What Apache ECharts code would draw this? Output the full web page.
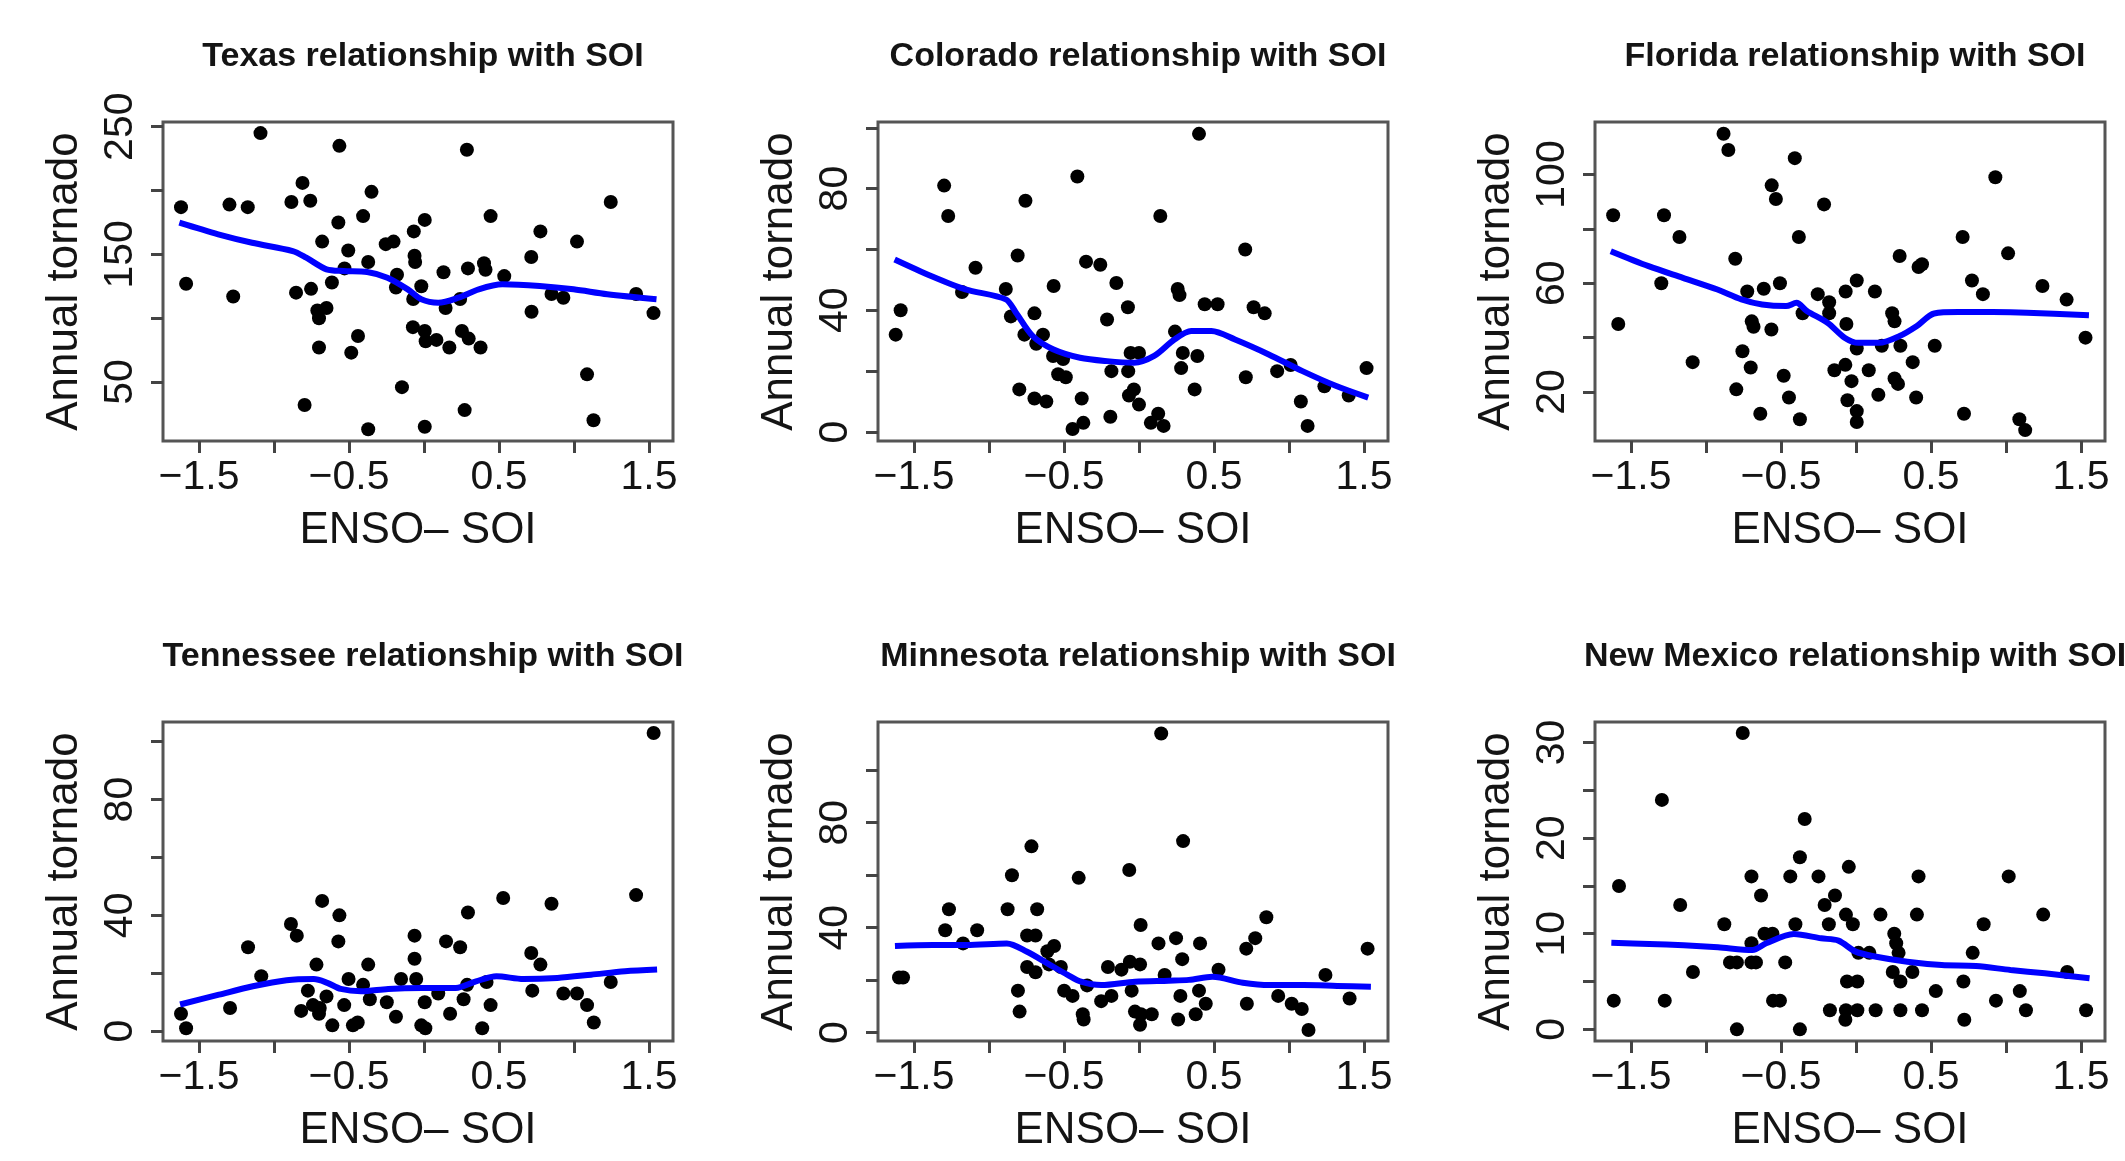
<!DOCTYPE html>
<html>
<head>
<meta charset="utf-8">
<script src="https://cdn.jsdelivr.net/npm/echarts@6/dist/echarts.min.js"></script>
<style>
html,body{margin:0;padding:0;background:#fff;}
#chart{width:2125px;height:1161px;}
</style>
</head>
<body>
<div id="chart"></div>
<script>
// ---------- tick / label values ----------
const xTicks = [-1.5, -1, -0.5, 0, 0.5, 1, 1.5];
const xLabels = [-1.5, -0.5, 0.5, 1.5];

const texasYTicks = [50, 100, 150, 200, 250];
const texasYLabels = [50, 150, 250];
const coloradoYTicks = [0, 20, 40, 60, 80, 100];
const coloradoYLabels = [0, 40, 80];
const floridaYTicks = [20, 40, 60, 80, 100];
const floridaYLabels = [20, 60, 100];
const tennesseeYTicks = [0, 20, 40, 60, 80, 100];
const tennesseeYLabels = [0, 40, 80];
const minnesotaYTicks = [0, 20, 40, 60, 80, 100];
const minnesotaYLabels = [0, 40, 80];
const newMexicoYTicks = [0, 5, 10, 15, 20, 25, 30];
const newMexicoYLabels = [0, 10, 20, 30];

// ---------- data: [ENSO SOI, annual tornado count] ----------
const texasPoints = [
[-1.62,187],[-1.586,127],[-1.297,189],[-1.175,187],[-1.272,117],[-1.09,245],[-0.884,191],[-0.81,206],
[-0.758,192],[-0.853,120],[-0.753,123],[-0.679,160],[-0.614,128],[-0.571,175],[-0.564,235],[-0.505,153],
[-0.53,139],[-0.406,180],[-0.35,199],[-0.372,144],[-0.711,106],[-0.65,108],[-0.70,100],[-0.70,77],
[-0.44,86],[-0.485,73],[-0.796,32],[-0.372,13],[-0.255,158],[-0.203,160],[-0.18,134],[-0.187,124],
[-0.068,168],[0.005,177],[-0.063,149],[-0.059,144],[-0.018,125],[-0.072,115],[-0.074,93],[0.005,90],
[0.011,82],[0.083,83],[0.169,77],[-0.147,46],[0.005,15],[0.13,136],[0.144,108],[0.241,115],
[0.293,139],[0.286,232],[0.253,90],[0.298,84],[0.377,77],[0.271,28],[0.40,143],[0.41,138],
[0.444,180],[0.535,133],[0.715,148],[0.776,168],[0.717,105],[0.85,119],[0.929,116],[1.02,160],
[1.087,56],[1.13,20],[1.245,191],[1.414,119],[1.53,104]
];
const texasSmooth = [
[-1.631,174.8],[-1.372,165.7],[-1.146,159.1],[-0.875,152.6],[-0.785,147.4],[-0.65,138.3],[-0.537,137.0],
[-0.379,136.2],[-0.244,131.7],[-0.108,122.6],[-0.018,114.8],[0.095,112.1],[0.23,116.1],[0.365,122.6],
[0.523,126.5],[0.771,125.2],[0.997,122.6],[1.222,118.7],[1.55,114.8]
];

const coloradoPoints = [
[-1.622,32],[-1.589,40],[-1.299,81],[-1.272,71],[-1.09,54],[-1.18,46],[-0.888,47],[-0.809,58],
[-0.757,76],[-0.854,38],[-0.697,39],[-0.764,32],[-0.64,32],[-0.685,29],[-0.573,25],[-0.506,24],
[-0.539,19],[-0.488,18],[-0.798,14],[-0.697,11],[-0.618,10],[-0.569,48],[-0.411,84],[-0.353,56],
[-0.258,55],[-0.151,49],[-0.213,37],[-0.382,11],[-0.371,3],[-0.443,1],[-0.184,20],[-0.191,5],
[-0.074,41],[-0.056,26],[0,26],[-0.072,20],[-0.067,12],[-0.034,14],[0,9],[0.079,3],
[0.128,6],[0.164,2],[0.142,71],[0.258,47],[0.27,45],[0.24,33],[0.292,26],[0.281,21],
[0.371,14],[0.389,25],[0.40,98],[0.438,42],[0.524,42],[0.708,60],[0.764,41],[0.838,39],
[0.712,18],[0.921,20],[1.011,22],[1.079,10],[1.124,2],[1.236,15],[1.398,12],[1.517,21]
];
const coloradoSmooth = [
[-1.629,56.7],[-1.382,51.2],[-1.157,46.9],[-0.888,43.6],[-0.82,39.2],[-0.708,31.5],[-0.573,27.2],
[-0.393,24.4],[-0.213,23.3],[-0.034,22.8],[0.101,25],[0.236,30.4],[0.348,33.2],[0.483,33.2],
[0.64,30.4],[0.865,25.5],[1.09,20],[1.315,15.1],[1.528,11.3]
];

const floridaPoints = [
[-1.619,85],[-1.585,45],[-1.28,85],[-1.177,77],[-1.298,60],[-1.089,31],[-0.883,115],[-0.851,109],
[-0.805,69],[-0.408,106],[-0.562,96],[-0.534,91],[-0.213,89],[-0.381,77],[-0.725,57],[-0.615,58],
[-0.507,60],[-0.695,46],[-0.683,44],[-0.564,43],[-0.757,35],[-0.702,29],[-0.798,21],[-0.482,26],
[-0.447,18],[-0.638,12],[-0.374,10],[-0.356,49],[-0.255,56],[-0.179,53],[-0.179,49],[-0.069,57],
[0.005,61],[0.126,57],[-0.064,45],[0.005,36],[-0.144,28],[-0.071,30],[-0.03,24],[-0.057,17],
[0.005,13],[0.005,9],[0.085,28],[0.149,19],[0.172,37],[0.241,49],[0.257,46],[0.296,37],
[0.291,70],[0.257,25],[0.28,23],[0.378,31],[0.401,18],[0.417,66],[0.44,67],[0.525,37],
[0.711,77],[0.773,61],[0.846,56],[0.72,12],[0.929,99],[1.014,71],[1.089,10],[1.128,6],
[1.243,59],[1.404,54],[1.53,40]
];
const floridaSmooth = [
[-1.635,71.8],[-1.383,66.3],[-1.154,62],[-0.924,57.7],[-0.764,54.1],[-0.626,52.2],[-0.466,51.6],
[-0.397,52.8],[-0.328,49.8],[-0.19,45.5],[-0.076,40],[0.016,38.1],[0.154,38.1],[0.291,40.6],
[0.406,44.3],[0.521,48.9],[0.681,49.4],[0.911,49.4],[1.14,49.2],[1.553,48.2]
];

const tennesseePoints = [
[-1.62,6],[-1.586,1],[-1.293,8],[-1.173,29],[-1.085,19],[-0.887,37],[-0.848,33],[-0.679,45],
[-0.564,40],[-0.571,31],[-0.717,23],[-0.774,14],[-0.819,7],[-0.74,9],[-0.695,8],[-0.65,12],
[-0.70,6],[-0.611,2],[-0.532,9],[-0.503,18],[-0.406,16],[-0.372,23],[-0.361,11],[-0.474,2],
[-0.442,3],[-0.248,10],[-0.187,5],[-0.153,18],[-0.063,33],[-0.063,25],[-0.052,18],[0.005,10],
[-0.018,2],[0.009,1],[0.095,13],[0.147,31],[0.241,29],[0.293,41],[0.174,6],[0.264,11],
[0.287,16],[0.388,1],[0.417,17],[0.444,9],[0.528,46],[0.715,27],[0.776,23],[0.722,14],
[0.85,44],[0.929,13],[1.02,13],[1.087,9],[1.132,3],[1.245,17],[1.414,47],[1.531,103]
];
const tennesseeSmooth = [
[-1.626,9.2],[-1.367,12.6],[-1.141,15.5],[-0.916,17.6],[-0.735,18],[-0.645,16.7],[-0.555,14.6],
[-0.42,13.8],[-0.239,14.6],[-0.014,14.9],[0.212,14.9],[0.347,17.2],[0.483,19],[0.663,18],
[0.889,18.4],[1.114,19.5],[1.34,20.7],[1.554,21.3]
];

const minnesotaPoints = [
[-1.6,21],[-1.573,21],[-1.267,47],[-1.292,39],[-1.173,34],[-1.079,39],[-0.876,47],[-0.847,60],
[-0.717,71],[-0.679,47],[-0.746,37],[-0.69,37],[-0.566,33],[-0.611,31],[-0.746,25],[-0.69,23],
[-0.807,16],[-0.796,8],[-0.6,26],[-0.521,25],[-0.499,16],[-0.443,14],[-0.402,59],[-0.346,18],
[-0.375,7],[-0.369,5],[-0.252,12],[-0.184,14],[-0.207,25],[-0.117,24],[-0.061,27],[0.007,26],
[-0.049,16],[-0.065,62],[0.011,41],[-0.027,8],[0.013,7],[0.007,3],[0.085,7],[0.148,114],
[0.13,34],[0.171,22],[0.247,36],[0.294,73],[0.288,28],[0.276,14],[0.261,5],[0.407,34],
[0.4,16],[0.445,11],[0.378,7],[0.53,24],[0.715,32],[0.775,36],[0.849,44],[0.719,11],
[0.928,14],[1.018,11],[1.085,9],[1.13,1],[1.243,22],[1.404,13],[1.524,32]
];
const minnesotaSmooth = [
[-1.627,33],[-1.375,33.4],[-1.151,33.4],[-0.881,34],[-0.746,30.8],[-0.611,26.4],[-0.476,22],
[-0.387,19.4],[-0.252,18.1],[-0.027,19.4],[0.198,19.8],[0.333,20.1],[0.49,21.3],[0.692,19],
[0.872,18.1],[1.097,18.1],[1.321,17.8],[1.546,17.5]
];

const newMexicoPoints = [
[-1.615,3],[-1.58,15],[-1.275,3],[-1.294,24],[-1.172,13],[-1.087,6],[-0.878,11],[-0.755,31],
[-0.794,0],[-0.84,7],[-0.794,7],[-0.697,7],[-0.667,7],[-0.697,16],[-0.633,14],[-0.697,9],
[-0.61,10],[-0.557,10],[-0.553,3],[-0.507,3],[-0.472,7],[-0.438,16],[-0.404,11],[-0.374,18],
[-0.342,22],[-0.374,0],[-0.25,16],[-0.209,13],[-0.14,14],[-0.181,11],[-0.048,17],[-0.067,12],
[-0.021,11],[0.016,8],[-0.06,5],[0.009,5],[-0.174,2],[-0.067,2],[0.009,2],[-0.071,1],
[0.089,8],[0.131,2],[0.163,12],[0.255,10],[0.268,9],[0.284,8],[0.245,6],[0.296,5],
[0.296,2],[0.376,6],[0.417,16],[0.406,12],[0.44,2],[0.532,4],[0.716,5],[0.778,8],
[0.722,1],[0.851,11],[0.933,3],[1.018,16],[1.092,4],[1.133,2],[1.248,12],[1.408,6],[1.534,2]
];
const newMexicoSmooth = [
[-1.631,9.07],[-1.378,8.93],[-1.149,8.79],[-0.92,8.58],[-0.69,8.3],[-0.599,9.0],[-0.415,9.98],
[-0.232,9.52],[-0.117,9.28],[-0.002,8.13],[0.135,7.6],[0.342,7.08],[0.571,6.73],[0.8,6.63],
[1.03,6.21],[1.259,5.86],[1.557,5.34]
];

const stateNames = ['Texas', 'Colorado', 'Florida', 'Tennessee', 'Minnesota', 'New Mexico'];

// ---------- build chart ----------
const FONT = '"Liberation Sans", Arial, Helvetica, sans-serif';
const TXT = '#141414';
const BOX = '#555555';

const panels = [
  {name: stateNames[0], pts: texasPoints, sm: texasSmooth, yt: texasYTicks, yl: texasYLabels, ymin: 3.8, ymax: 253.7},
  {name: stateNames[1], pts: coloradoPoints, sm: coloradoSmooth, yt: coloradoYTicks, yl: coloradoYLabels, ymin: -2.96, ymax: 101.9},
  {name: stateNames[2], pts: floridaPoints, sm: floridaSmooth, yt: floridaYTicks, yl: floridaYLabels, ymin: 2.0, ymax: 119.3},
  {name: stateNames[3], pts: tennesseePoints, sm: tennesseeSmooth, yt: tennesseeYTicks, yl: tennesseeYLabels, ymin: -3.4, ymax: 106.8},
  {name: stateNames[4], pts: minnesotaPoints, sm: minnesotaSmooth, yt: minnesotaYTicks, yl: minnesotaYLabels, ymin: -3.2, ymax: 118.4},
  {name: stateNames[5], pts: newMexicoPoints, sm: newMexicoSmooth, yt: newMexicoYTicks, yl: newMexicoYLabels, ymin: -1.22, ymax: 32.15}
];

const colLeft = [163, 878, 1595];
const rowTop = [122, 722];
const W = 510, H = 319;

const fmtNum = v => (v < 0 ? '\u2212' : '') + String(Math.abs(v));

const grid = [], xAxis = [], yAxis = [], series = [], title = [];
panels.forEach((p, i) => {
  const c = i % 3, r = Math.floor(i / 3);
  grid.push({left: colLeft[c], top: rowTop[r], width: W, height: H, show: true,
    borderColor: BOX, borderWidth: 3, backgroundColor: 'transparent', containLabel: false});
  title.push({text: p.name + ' relationship with SOI', left: colLeft[c] + W / 2, top: rowTop[r] - 87,
    textAlign: 'center',
    textStyle: {fontFamily: FONT, fontWeight: 'bold', fontSize: 34, color: TXT}});
  xAxis.push({type: 'value', gridIndex: i, min: -1.74, max: 1.66,
    name: 'ENSO\u2013 SOI', nameLocation: 'middle', nameGap: 68,
    nameTextStyle: {fontFamily: FONT, fontSize: 44, color: TXT},
    axisLine: {show: false, onZero: false},
    splitLine: {show: false},
    axisTick: {show: true, customValues: xTicks, length: 12, lineStyle: {color: '#444', width: 3}},
    axisLabel: {show: true, customValues: xLabels, fontFamily: FONT, fontSize: 41, color: TXT, margin: 16,
      formatter: v => fmtNum(v)}});
  yAxis.push({type: 'value', gridIndex: i, min: p.ymin, max: p.ymax,
    name: 'Annual tornado', nameLocation: 'middle', nameGap: 76, nameRotate: 90,
    nameTextStyle: {fontFamily: FONT, fontSize: 44, color: TXT},
    axisLine: {show: false, onZero: false},
    splitLine: {show: false},
    axisTick: {show: true, customValues: p.yt, length: 12, lineStyle: {color: '#444', width: 3}},
    axisLabel: {show: true, customValues: p.yl, rotate: 90, fontFamily: FONT, fontSize: 41, color: TXT, margin: 22,
      formatter: v => fmtNum(v)}});
  series.push({type: 'scatter', xAxisIndex: i, yAxisIndex: i, data: p.pts, symbol: 'circle', symbolSize: 14,
    itemStyle: {color: '#000', opacity: 1}, z: 2, silent: true, animation: false});
  series.push({type: 'line', xAxisIndex: i, yAxisIndex: i, data: p.sm, showSymbol: false, smooth: 0.3,
    lineStyle: {color: '#0000ff', width: 6}, z: 3, silent: true, animation: false});
});

const chart = echarts.init(document.getElementById('chart'), null, {renderer: 'canvas'});
chart.setOption({animation: false, backgroundColor: '#ffffff', title, grid, xAxis, yAxis, series});
</script>
</body>
</html>
